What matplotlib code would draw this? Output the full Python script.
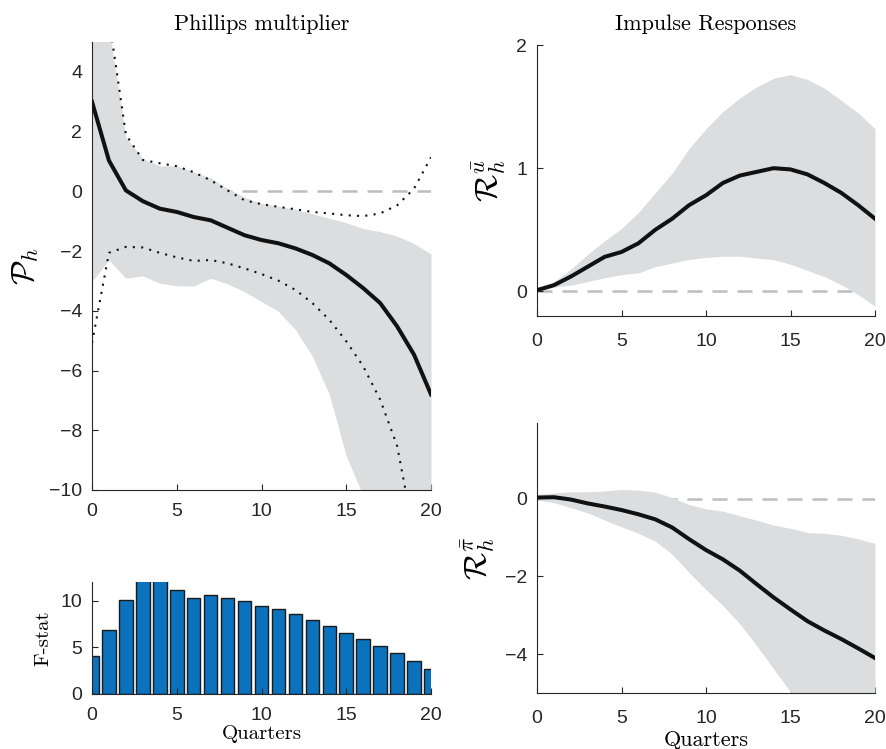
import matplotlib
matplotlib.use("Agg")
import matplotlib.pyplot as plt

plt.rcParams["mathtext.fontset"] = "cm"
plt.rcParams["font.family"] = ["Liberation Sans", "DejaVu Sans"]

H = list(range(21))

# Phillips multiplier
pm_mid = [3.0, 1.03, 0.03, -0.33, -0.58, -0.69, -0.86, -0.97, -1.22, -1.47, -1.63,
          -1.74, -1.91, -2.13, -2.41, -2.8, -3.24, -3.74, -4.52, -5.47, -6.8]
pm_band_hi = [8.0, 5.5, 1.8, 1.1, 0.85, 0.85, 0.65, 0.45, 0.1, -0.2, -0.4,
              -0.5, -0.6, -0.75, -0.9, -1.05, -1.25, -1.35, -1.5, -1.75, -2.1]
pm_band_lo = [-3.02, -2.3, -2.91, -2.83, -3.08, -3.16, -3.17, -2.91, -3.1, -3.36, -3.69,
              -4.02, -4.63, -5.52, -6.8, -8.86, -10.2, -11.5, -13.0, -15.0, -17.0]
pm_dot_hi = [12.0, 5.8, 1.9, 1.05, 0.94, 0.84, 0.64, 0.37, 0.03, -0.3, -0.43,
             -0.52, -0.6, -0.69, -0.74, -0.8, -0.83, -0.74, -0.47, 0.09, 1.14]
pm_dot_lo = [-5.08, -2.06, -1.86, -1.88, -2.06, -2.21, -2.33, -2.3, -2.41, -2.58, -2.77,
             -2.99, -3.3, -3.74, -4.3, -5.02, -5.86, -6.97, -8.52, -11.5, -15.0]

# first-stage F statistic
fstat = [4.06, 6.83, 10.07, 12.5, 12.3, 11.15, 10.25, 10.6, 10.25, 10.0, 9.46,
         9.06, 8.53, 7.91, 7.3, 6.58, 5.86, 5.18, 4.39, 3.49, 2.63]

# impulse response: unemployment
ru_mid = [0.01, 0.05, 0.12, 0.2, 0.28, 0.32, 0.39, 0.5, 0.59, 0.7, 0.78,
          0.88, 0.94, 0.97, 1.0, 0.99, 0.95, 0.88, 0.8, 0.7, 0.59]
ru_hi = [0.01, 0.08, 0.18, 0.3, 0.41, 0.51, 0.64, 0.8, 0.96, 1.16, 1.32,
         1.46, 1.57, 1.66, 1.73, 1.76, 1.72, 1.65, 1.55, 1.45, 1.32]
ru_lo = [0.0, 0.035, 0.05, 0.08, 0.11, 0.135, 0.15, 0.2, 0.23, 0.26, 0.275,
         0.285, 0.285, 0.27, 0.257, 0.22, 0.17, 0.12, 0.054, -0.027, -0.12]

# impulse response: inflation
rp_mid = [0.03, 0.04, -0.02, -0.12, -0.2, -0.29, -0.4, -0.53, -0.74, -1.04, -1.32,
          -1.56, -1.85, -2.2, -2.54, -2.85, -3.15, -3.39, -3.61, -3.85, -4.1]
rp_hi = [0.11, 0.15, 0.18, 0.18, 0.2, 0.24, 0.22, 0.17, 0.03, -0.15, -0.26,
         -0.32, -0.44, -0.55, -0.68, -0.76, -0.87, -0.89, -0.94, -1.03, -1.15]
rp_lo = [-0.03, -0.1, -0.23, -0.36, -0.55, -0.72, -0.89, -1.09, -1.43, -1.9, -2.34,
         -2.75, -3.22, -3.78, -4.38, -4.97, -5.6, -6.2, -6.8, -7.4, -8.0]

BAND = "#dcdddf"
AXC = "#262626"
SERIF = "cmr10"
W, HGT = 886, 749


def box(l, r, t, b):
    return [l / W, 1 - b / HGT, (r - l) / W, (b - t) / HGT]


def style(ax, xpad=9):
    for s in ["top", "right"]:
        ax.spines[s].set_visible(False)
    for s in ["left", "bottom"]:
        ax.spines[s].set_color(AXC)
        ax.spines[s].set_linewidth(0.8)
    ax.tick_params(direction="in", length=4, width=0.8, colors=AXC,
                   labelsize=14, labelcolor=AXC)
    ax.tick_params(axis="x", pad=xpad)
    ax.tick_params(axis="y", pad=7)
    ax.set_xlim(0, 20)
    ax.set_xticks([0, 5, 10, 15, 20])


def irf(ax, mid, lo, hi):
    # zero line sits under the band, as in the original
    ax.plot([0, 20], [0, 0], color="#bdbdbd", lw=1.8, ls=(0, (6, 4)), zorder=1)
    ax.fill_between(H, lo, hi, color=BAND, lw=0, zorder=2)
    ax.plot(H, mid, color="#111111", lw=2.9, zorder=4)


fig = plt.figure(figsize=(8.86, 7.49), dpi=100)

ax1 = fig.add_axes(box(92, 431, 42, 490))
irf(ax1, pm_mid, pm_band_lo, pm_band_hi)
ax1.plot(H, pm_dot_hi, color="#111111", lw=1.5, ls=(0, (1, 3)), zorder=3)
ax1.plot(H, pm_dot_lo, color="#111111", lw=1.5, ls=(0, (1, 3)), zorder=3)
style(ax1)
ax1.set_ylim(-10, 5)
ax1.set_yticks(range(-10, 5, 2))
ax1.set_title("Phillips multiplier", family=SERIF, fontsize=16, pad=9)
ax1.set_ylabel(r"$\mathcal{P}_h$", fontsize=23, labelpad=6)

ax2 = fig.add_axes(box(92, 431, 582, 694))
ax2.bar(H, fstat, width=0.8, color="#0b72bd", edgecolor="#1a1a1a", linewidth=1.0)
style(ax2)
ax2.set_ylim(0, 12)
ax2.set_yticks([0, 5, 10])
ax2.set_ylabel("F-stat", family=SERIF, fontsize=15, labelpad=6)
ax2.set_xlabel("Quarters", family=SERIF, fontsize=15, labelpad=1)

ax3 = fig.add_axes(box(537, 875, 45, 316))
irf(ax3, ru_mid, ru_lo, ru_hi)
style(ax3, xpad=12)
ax3.set_ylim(-0.2, 2)
ax3.set_yticks([0, 1, 2])
ax3.set_title("Impulse Responses", family=SERIF, fontsize=16, pad=11)
ax3.set_ylabel(r"$\mathcal{R}_h^{\bar{u}}$", fontsize=23, labelpad=6)

ax4 = fig.add_axes(box(537, 875, 423, 693))
irf(ax4, rp_mid, rp_lo, rp_hi)
style(ax4, xpad=12)
ax4.set_ylim(-5, 1.95)
ax4.set_yticks([-4, -2, 0])
ax4.set_ylabel(r"$\mathcal{R}_h^{\bar{\pi}}$", fontsize=23, labelpad=6)
ax4.set_xlabel("Quarters", family=SERIF, fontsize=16, labelpad=3)

fig.savefig("out.png", dpi=100)
